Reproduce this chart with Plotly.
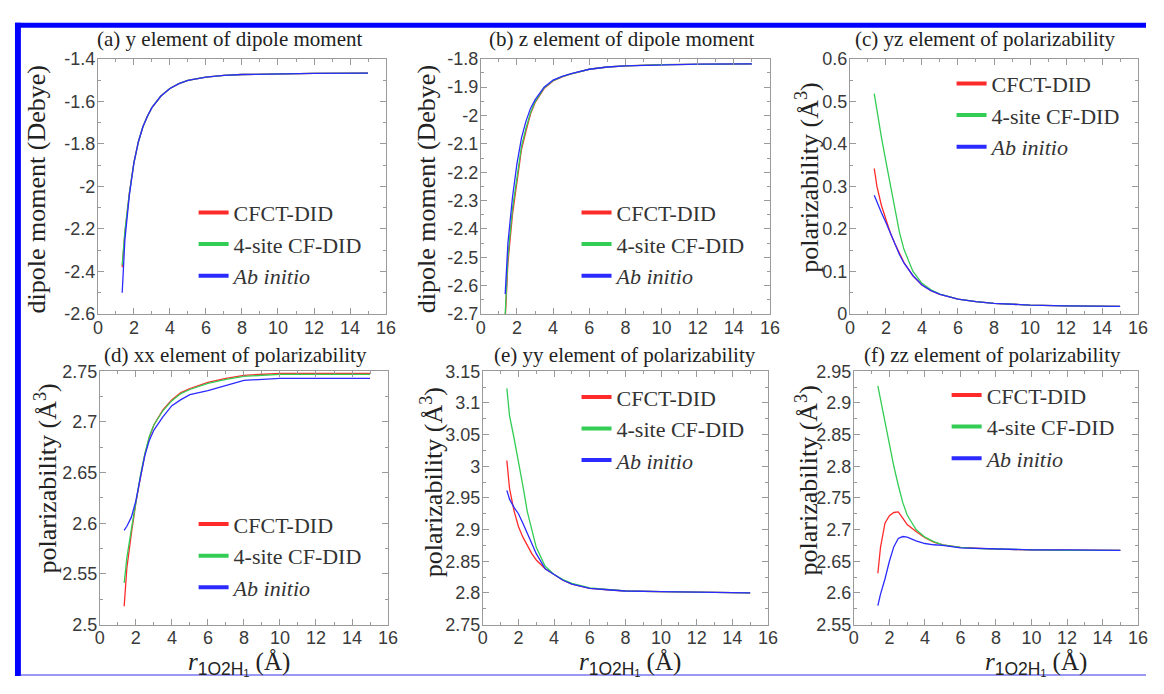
import plotly.graph_objects as go

# page is 1164x694; the html body keeps an 8px margin, so the figure is 16px smaller
PAGE_W, PAGE_H = 1164, 694
OFF = 8
W, H = PAGE_W - 2 * OFF, PAGE_H - 2 * OFF

# ---------------- data ----------------
r = [1.35, 1.5, 1.75, 2.0, 2.25, 2.5, 2.75, 3.0, 3.5, 4.0, 4.5, 5.0, 6.0, 7.0, 8.0, 10.0, 12.0, 15.0]

# (a) y element of dipole moment
cfct_a = [-2.38, -2.22, -2.03, -1.89, -1.79, -1.72, -1.67, -1.63, -1.575, -1.54, -1.517, -1.502, -1.486, -1.478, -1.474, -1.471, -1.469, -1.468]
cf4_a = [-2.37, -2.21, -2.03, -1.89, -1.79, -1.72, -1.67, -1.63, -1.575, -1.54, -1.517, -1.502, -1.486, -1.478, -1.474, -1.471, -1.469, -1.468]
abi_a = [-2.50, -2.25, -2.04, -1.89, -1.79, -1.72, -1.67, -1.63, -1.575, -1.54, -1.517, -1.502, -1.486, -1.478, -1.474, -1.471, -1.469, -1.468]

# (b) z element of dipole moment
cfct_b = [-2.72, -2.52, -2.35, -2.23, -2.12, -2.055, -1.995, -1.955, -1.905, -1.878, -1.864, -1.853, -1.837, -1.829, -1.825, -1.821, -1.819, -1.818]
cf4_b = [-2.70, -2.50, -2.33, -2.21, -2.11, -2.045, -1.99, -1.952, -1.903, -1.877, -1.863, -1.853, -1.837, -1.829, -1.825, -1.821, -1.819, -1.818]
abi_b = [-2.63, -2.45, -2.29, -2.17, -2.08, -2.02, -1.975, -1.945, -1.90, -1.875, -1.862, -1.852, -1.837, -1.829, -1.825, -1.821, -1.819, -1.818]

# (c) yz element of polarizability
cfct_c = [0.342, 0.300, 0.255, 0.220, 0.190, 0.165, 0.141, 0.121, 0.090, 0.068, 0.055, 0.046, 0.035, 0.029, 0.025, 0.021, 0.019, 0.018]
cf4_c = [0.518, 0.475, 0.415, 0.358, 0.300, 0.245, 0.192, 0.152, 0.100, 0.072, 0.057, 0.047, 0.035, 0.029, 0.025, 0.021, 0.019, 0.018]
abi_c = [0.279, 0.262, 0.238, 0.215, 0.190, 0.165, 0.140, 0.120, 0.090, 0.068, 0.055, 0.046, 0.035, 0.029, 0.025, 0.021, 0.019, 0.018]

# (d) xx element of polarizability
cfct_d = [2.518, 2.556, 2.590, 2.620, 2.645, 2.668, 2.685, 2.697, 2.712, 2.722, 2.729, 2.733, 2.739, 2.743, 2.746, 2.748, 2.748, 2.748]
cf4_d = [2.541, 2.566, 2.594, 2.622, 2.647, 2.669, 2.686, 2.697, 2.711, 2.721, 2.728, 2.732, 2.738, 2.742, 2.745, 2.747, 2.747, 2.747]
abi_d = [2.593, 2.597, 2.606, 2.622, 2.645, 2.667, 2.682, 2.692, 2.705, 2.716, 2.722, 2.727, 2.731, 2.736, 2.741, 2.743, 2.743, 2.743]

# (e) yy element of polarizability
cfct_e = [3.009, 2.965, 2.930, 2.905, 2.888, 2.875, 2.862, 2.852, 2.838, 2.829, 2.820, 2.814, 2.807, 2.805, 2.803, 2.802, 2.801, 2.800]
cf4_e = [3.123, 3.080, 3.045, 3.009, 2.969, 2.928, 2.898, 2.872, 2.842, 2.829, 2.821, 2.815, 2.808, 2.805, 2.803, 2.802, 2.801, 2.800]
abi_e = [2.962, 2.948, 2.935, 2.925, 2.910, 2.895, 2.878, 2.862, 2.838, 2.829, 2.820, 2.814, 2.807, 2.805, 2.803, 2.802, 2.801, 2.800]

# (f) zz element of polarizability
cfct_f = [2.631, 2.672, 2.710, 2.722, 2.727, 2.728, 2.718, 2.708, 2.697, 2.687, 2.680, 2.676, 2.672, 2.670, 2.669, 2.668, 2.668, 2.667]
cf4_f = [2.927, 2.905, 2.870, 2.836, 2.800, 2.770, 2.743, 2.723, 2.700, 2.688, 2.681, 2.676, 2.672, 2.670, 2.669, 2.668, 2.667, 2.667]
abi_f = [2.580, 2.598, 2.622, 2.650, 2.673, 2.686, 2.689, 2.688, 2.682, 2.678, 2.676, 2.675, 2.671, 2.670, 2.669, 2.668, 2.668, 2.667]

SANS = "Liberation Sans"
SERIF = "Liberation Serif"

series_names = ["CFCT-DID", "4-site CF-DID", "<i>Ab initio</i>"]
series_colors = ["#ff2a2a", "#33cc55", "#2b2bff"]

panel_titles = [
    "(a) y element of dipole moment",
    "(b) z element of dipole moment",
    "(c) yz element of polarizability",
    "(d) xx element of polarizability",
    "(e) yy element of polarizability",
    "(f) zz element of polarizability",
]
ytitles = ["dipole moment (Debye)", "dipole moment (Debye)",
           "polarizability (Å<sup>3</sup>)", "polarizability (Å<sup>3</sup>)",
           "polarizability (Å<sup>3</sup>)", "polarizability (Å<sup>3</sup>)"]
xtitle = "<i>r</i><sub><span style='font-family:Liberation Sans'>1O2H₁</span></sub> (Å)"

x_ticks = [0, 2, 4, 6, 8, 10, 12, 14, 16]
x_ticktext = ["0", "2", "4", "6", "8", "10", "12", "14", "16"]

y_ticks = [
    [-2.6, -2.4, -2.2, -2.0, -1.8, -1.6, -1.4],
    [-2.7, -2.6, -2.5, -2.4, -2.3, -2.2, -2.1, -2.0, -1.9, -1.8],
    [0, 0.1, 0.2, 0.3, 0.4, 0.5, 0.6],
    [2.5, 2.55, 2.6, 2.65, 2.7, 2.75],
    [2.75, 2.8, 2.85, 2.9, 2.95, 3.0, 3.05, 3.1, 3.15],
    [2.55, 2.6, 2.65, 2.7, 2.75, 2.8, 2.85, 2.9, 2.95],
]
y_ticktext = [
    ["-2.6", "-2.4", "-2.2", "-2", "-1.8", "-1.6", "-1.4"],
    ["-2.7", "-2.6", "-2.5", "-2.4", "-2.3", "-2.2", "-2.1", "-2", "-1.9", "-1.8"],
    ["0", "0.1", "0.2", "0.3", "0.4", "0.5", "0.6"],
    ["2.5", "2.55", "2.6", "2.65", "2.7", "2.75"],
    ["2.75", "2.8", "2.85", "2.9", "2.95", "3", "3.05", "3.1", "3.15"],
    ["2.55", "2.6", "2.65", "2.7", "2.75", "2.8", "2.85", "2.9", "2.95"],
]
y_minor = [0.1, 0.05, 0.05, 0.025, 0.025, 0.025]

panels = [
    (cfct_a, cf4_a, abi_a),
    (cfct_b, cf4_b, abi_b),
    (cfct_c, cf4_c, abi_c),
    (cfct_d, cf4_d, abi_d),
    (cfct_e, cf4_e, abi_e),
    (cfct_f, cf4_f, abi_f),
]

# ---------------- layout geometry (page pixels) ----------------
boxes = [  # left, right, top, bottom
    (94, 386, 50, 313),
    (482, 775, 50, 313),
    (856, 1148, 50, 313),
    (96, 388, 372, 633),
    (484, 773, 372, 633),
    (860, 1148, 372, 633),
]
legend_pos = [(191, 187), (579, 187), (959, 54), (191, 508), (579, 377), (954, 375)]
title_pos = [(227, 30), (625, 30), (993, 30), (233, 355), (628, 355), (1000, 355)]
ytitle_pos = [(32, 185), (427, 185), (813, 172), (42, 483), (433, 486), (813, 484)]
xtitle_pos = [(237, 673), (633, 673), (1045, 673)]


def px(xp):
    return (xp - OFF) / W


def py(yp):
    return 1 - (yp - OFF) / H


fig = go.Figure()
axis_col = "#9a9a9a"
tick_font = dict(family=SANS, size=18, color="#3a3a3a")

layout = dict(
    width=W, height=H,
    margin=dict(l=0, r=0, t=0, b=0),
    paper_bgcolor="white", plot_bgcolor="white",
    showlegend=True,
    font=dict(family=SERIF),
)

annotations = []
for i, (l, rr, t, b) in enumerate(boxes):
    k = "" if i == 0 else str(i + 1)
    xa, ya = "x" + k, "y" + k
    lg = "legend" + k
    ylo, yhi = y_ticks[i][0], y_ticks[i][-1]
    layout["xaxis" + k] = dict(
        domain=[px(l), px(rr)], anchor=ya, range=[0, 16],
        tickmode="array", tickvals=x_ticks, ticktext=x_ticktext,
        ticks="inside", ticklen=6, tickcolor=axis_col, tickwidth=1,
        minor=dict(ticks="inside", ticklen=3, dtick=1, tick0=0, tickcolor=axis_col, showgrid=False),
        showline=True, linecolor=axis_col, linewidth=1, mirror="ticks",
        showgrid=False, zeroline=False, tickfont=tick_font, fixedrange=True,
        ticklabelstandoff=-3,
    )
    layout["yaxis" + k] = dict(
        domain=[py(b), py(t)], anchor=xa, range=[ylo, yhi],
        tickmode="array", tickvals=y_ticks[i], ticktext=y_ticktext[i],
        ticks="inside", ticklen=6, tickcolor=axis_col, tickwidth=1,
        minor=dict(ticks="inside", ticklen=3, dtick=y_minor[i], tick0=ylo, tickcolor=axis_col, showgrid=False),
        showline=True, linecolor=axis_col, linewidth=1, mirror="ticks",
        showgrid=False, zeroline=False, tickfont=tick_font, fixedrange=True,
        ticklabelstandoff=-2,
    )
    lx, lyy = legend_pos[i]
    layout[lg] = dict(
        x=px(lx), y=py(lyy), xanchor="left", yanchor="top",
        bgcolor="rgba(0,0,0,0)", borderwidth=0,
        font=dict(family=SERIF, size=22, color="#333333"),
        traceorder="normal",
    )
    vals = panels[i]
    for j in range(3):
        fig.add_trace(go.Scatter(
            x=r, y=vals[j], mode="lines", xaxis=xa, yaxis=ya,
            line=dict(color=series_colors[j], width=1.3),
            showlegend=False, hoverinfo="skip", name=series_names[j],
        ))
    for j in range(3):
        fig.add_trace(go.Scatter(
            x=[None], y=[None], mode="lines", xaxis=xa, yaxis=ya,
            line=dict(color=series_colors[j], width=4),
            name=series_names[j],
            legend=lg, showlegend=True,
        ))
    tx, ty = title_pos[i]
    annotations.append(dict(
        x=px(tx), y=py(ty), xref="paper", yref="paper", text=panel_titles[i],
        showarrow=False, xanchor="center", yanchor="middle",
        font=dict(family=SERIF, size=21, color="#222222"),
    ))
    yx, yy = ytitle_pos[i]
    annotations.append(dict(
        x=px(yx), y=py(yy), xref="paper", yref="paper", text=ytitles[i],
        showarrow=False, xanchor="center", yanchor="middle", textangle=-90,
        font=dict(family=SERIF, size=26, color="#222222"),
    ))

for (xx, yy) in xtitle_pos:
    annotations.append(dict(
        x=px(xx), y=py(yy), xref="paper", yref="paper", text=xtitle,
        showarrow=False, xanchor="center", yanchor="middle",
        font=dict(family=SERIF, size=25, color="#222222"),
    ))

layout["annotations"] = annotations
layout["shapes"] = [
    dict(type="rect", xref="paper", yref="paper", x0=px(10), x1=1, y0=py(18), y1=py(13),
         fillcolor="#0000ff", line=dict(width=0)),
    dict(type="rect", xref="paper", yref="paper", x0=px(10), x1=px(16), y0=0, y1=py(13),
         fillcolor="#0000ff", line=dict(width=0)),
    dict(type="line", xref="paper", yref="paper", x0=px(16), x1=1, y0=py(685), y1=py(685),
         line=dict(color="#9a9af5", width=2)),
]

fig.update_layout(**layout)
fig.write_html("out.html", config=dict(displayModeBar=False))
